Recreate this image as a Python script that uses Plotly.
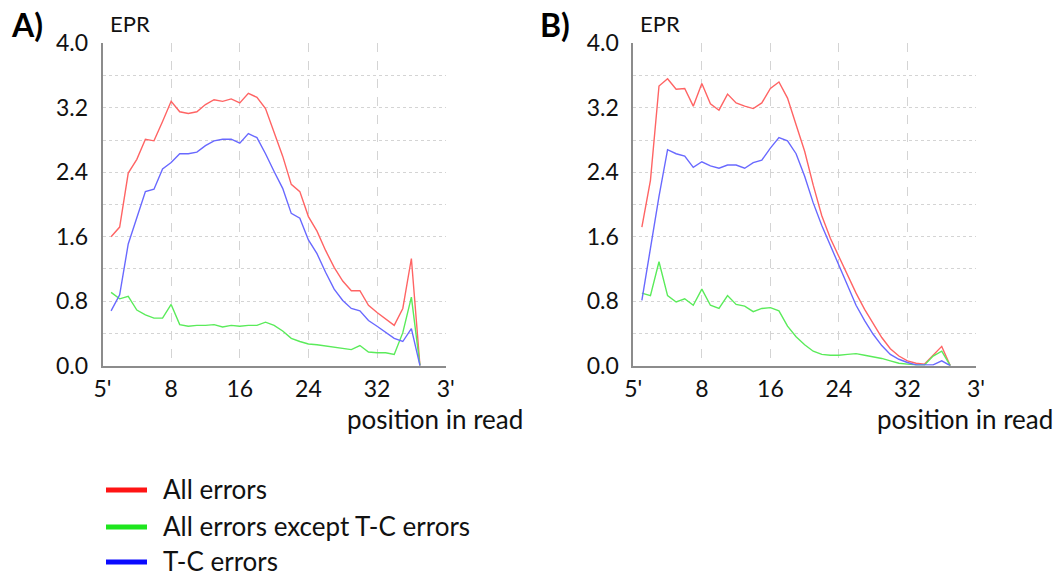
import plotly.graph_objects as go

positions = list(range(1, 38))

a_all = [1.60, 1.72, 2.39, 2.56, 2.81, 2.79, 3.03, 3.28, 3.15, 3.13, 3.15, 3.24, 3.30, 3.28, 3.31, 3.26, 3.38, 3.33, 3.19, 2.90,
         2.60, 2.25, 2.16, 1.85, 1.67, 1.43, 1.22, 1.05, 0.93, 0.93, 0.75, 0.66, 0.58, 0.50, 0.71, 1.33, 0.0]
a_tc = [0.68, 0.88, 1.51, 1.83, 2.16, 2.19, 2.44, 2.52, 2.63, 2.63, 2.65, 2.73, 2.79, 2.81, 2.81, 2.76, 2.88, 2.83, 2.63, 2.41,
        2.20, 1.89, 1.83, 1.56, 1.39, 1.16, 0.95, 0.81, 0.71, 0.68, 0.56, 0.49, 0.41, 0.34, 0.30, 0.46, 0.0]
a_other = [0.91, 0.83, 0.86, 0.69, 0.63, 0.59, 0.59, 0.76, 0.51, 0.49, 0.50, 0.50, 0.51, 0.48, 0.50, 0.49, 0.50, 0.50, 0.54, 0.50,
           0.43, 0.34, 0.30, 0.27, 0.26, 0.245, 0.23, 0.22, 0.20, 0.25, 0.17, 0.16, 0.16, 0.14, 0.41, 0.85, 0.0]

b_all = [1.72, 2.30, 3.47, 3.56, 3.43, 3.44, 3.22, 3.50, 3.25, 3.17, 3.37, 3.26, 3.22, 3.19, 3.26, 3.44, 3.52, 3.32, 2.99, 2.66,
         2.24, 1.86, 1.58, 1.35, 1.13, 0.90, 0.70, 0.52, 0.35, 0.21, 0.12, 0.06, 0.03, 0.02, 0.13, 0.24, 0.0]
b_tc = [0.81, 1.47, 2.10, 2.68, 2.63, 2.60, 2.46, 2.53, 2.48, 2.45, 2.49, 2.49, 2.45, 2.52, 2.55, 2.70, 2.83, 2.79, 2.63, 2.35,
        2.02, 1.74, 1.49, 1.23, 0.98, 0.75, 0.56, 0.39, 0.25, 0.14, 0.08, 0.04, 0.01, 0.01, 0.01, 0.06, 0.0]
b_other = [0.90, 0.87, 1.29, 0.87, 0.79, 0.83, 0.75, 0.95, 0.75, 0.71, 0.87, 0.76, 0.74, 0.67, 0.71, 0.72, 0.68, 0.49, 0.36, 0.26,
           0.18, 0.14, 0.13, 0.13, 0.14, 0.15, 0.13, 0.11, 0.09, 0.06, 0.03, 0.02, 0.01, 0.01, 0.12, 0.18, 0.0]

x_tickvals = [0, 8, 16, 24, 32, 40]
x_ticktext = ["5'", "8", "16", "24", "32", "3'"]
y_tickvals = [0.0, 0.8, 1.6, 2.4, 3.2, 4.0]
y_ticktext = ["0.0", "0.8", "1.6", "2.4", "3.2", "4.0"]

series_names = ["All errors", "All errors except T-C errors", "T-C errors"]
line_colors = ["rgb(255,100,100)", "rgb(90,235,90)", "rgb(105,105,255)"]
legend_colors = ["rgb(255,20,20)", "rgb(30,230,30)", "rgb(10,10,255)"]

W, H = 1062, 578
FONT = "Lato, Open Sans, sans-serif"

fig = go.Figure()

panels = [
    ("x", "y", [a_all, a_other, a_tc]),
    ("x2", "y2", [b_all, b_other, b_tc]),
]
for xa, ya, ser in panels:
    for vals, name, col in zip(ser, series_names, line_colors):
        fig.add_trace(go.Scatter(x=positions, y=vals, mode="lines", name=name,
                                 line=dict(color=col, width=1.4),
                                 xaxis=xa, yaxis=ya, showlegend=False, hoverinfo="skip"))

def px_x(v):
    return v / W

def px_y(v):
    return 1 - v / H

ydom = [px_y(365.7), px_y(43.3)]
xdomA = [px_x(102.5), px_x(445.7)]
xdomB = [px_x(633.3), px_x(976.0)]

xcommon = dict(range=[0, 40], tickvals=x_tickvals, ticktext=x_ticktext,
               showgrid=True, gridcolor="#d4d4d4", griddash="dash", gridwidth=1,
               showline=True, linecolor="#8c8c8c", linewidth=1.6, zeroline=False,
               ticks="", tickfont=dict(family=FONT, size=23, color="#111"),
               ticklabelstandoff=2, fixedrange=True, automargin=False)
ycommon = dict(range=[0, 4.0], tickvals=y_tickvals, ticktext=y_ticktext,
               showgrid=True, gridcolor="#d4d4d4", griddash="dot", gridwidth=1,
               minor=dict(dtick=0.4, tick0=0, showgrid=True, gridcolor="#d4d4d4", griddash="dot", gridwidth=1),
               showline=True, linecolor="#8c8c8c", linewidth=1.6, zeroline=False,
               ticks="", tickfont=dict(family=FONT, size=23, color="#111"),
               ticklabelstandoff=8, fixedrange=True, automargin=False)

fig.update_layout(
    template="none",
    width=W, height=H,
    margin=dict(l=0, r=0, t=0, b=0, autoexpand=False),
    paper_bgcolor="white", plot_bgcolor="white",
    font=dict(family=FONT, color="#111"),
    xaxis=dict(domain=xdomA, anchor="y", **xcommon),
    yaxis=dict(domain=ydom, anchor="x", **ycommon),
    xaxis2=dict(domain=xdomB, anchor="y2", **xcommon),
    yaxis2=dict(domain=ydom, anchor="x2", **ycommon),
    showlegend=False,
)

ann = []
shapes = []
for xl, lab in [(9, "A)"), (538, "B)")]:
    ann.append(dict(x=px_x(xl), y=px_y(25), xref="paper", yref="paper", text="<b>" + lab + "</b>",
                    showarrow=False, xanchor="left", yanchor="middle",
                    font=dict(family=FONT, size=32, color="#000")))
for xl in [108, 638]:
    ann.append(dict(x=px_x(xl), y=px_y(24), xref="paper", yref="paper", text="EPR",
                    showarrow=False, xanchor="left", yanchor="middle",
                    font=dict(family=FONT, size=22, color="#111")))
for xl in [345, 875]:
    ann.append(dict(x=px_x(xl), y=px_y(419), xref="paper", yref="paper", text="position in read",
                    showarrow=False, xanchor="left", yanchor="middle",
                    font=dict(family=FONT, size=26, color="#111")))

# legend (manual, to match swatch length and text offset)
for yrow, name, col in zip([490, 527, 562], series_names, legend_colors):
    shapes.append(dict(type="line", xref="paper", yref="paper",
                       x0=px_x(106), x1=px_x(147), y0=px_y(yrow), y1=px_y(yrow),
                       line=dict(color=col, width=5)))
    ann.append(dict(x=px_x(161), y=px_y(yrow - 1), xref="paper", yref="paper", text=name,
                    showarrow=False, xanchor="left", yanchor="middle",
                    font=dict(family=FONT, size=26, color="#111")))

fig.update_layout(annotations=ann, shapes=shapes)

fig.write_html("out.html")
